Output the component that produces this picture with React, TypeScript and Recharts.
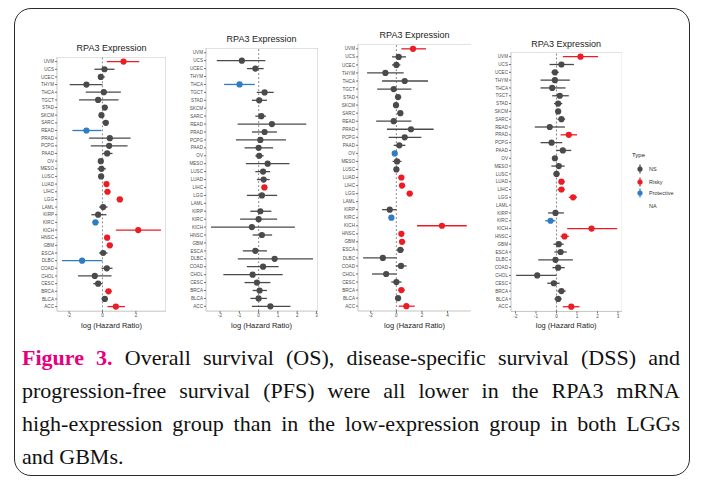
import React from 'react';
import { ScatterChart, Scatter, XAxis, YAxis, ErrorBar, ReferenceLine, ReferenceArea } from 'recharts';

const cancers = ['UVM','UCS','UCEC','THYM','THCA','TGCT','STAD','SKCM','SARC','READ','PRAD','PCPG','PAAD','OV','MESO','LUSC','LUAD','LIHC','LGG','LAML','KIRP','KIRC','KICH','HNSC','GBM','ESCA','DLBC','COAD','CHOL','CESC','BRCA','BLCA','ACC'];

// Panel 1
const p1HR = [1.26,0.12,-0.1,-0.96,0.08,-0.26,0.14,-0.06,0.2,-0.96,0.44,0.4,0.28,-0.1,-0.06,-0.08,0.24,0.3,1.04,0.04,-0.26,-0.42,2.14,0.28,0.44,0.04,-1.22,0.26,-0.46,-0.26,0.36,0.14,0.8];
const p1Lo = [0.26,-0.48,-0.26,-1.96,-1.0,-1.4,-0.01,-0.2,0.05,-1.8,-0.8,-0.7,0.0,-0.22,-0.3,-0.22,0.1,0.12,0.85,-0.2,-0.66,-0.6,0.8,0.1,0.25,-0.2,-2.42,-0.05,-1.46,-0.55,0.16,-0.05,0.3];
const p1Hi = [2.2,0.72,0.14,0.0,1.1,0.96,0.29,0.08,0.35,-0.06,1.68,1.5,0.6,0.02,0.2,0.06,0.38,0.48,1.22,0.3,0.24,-0.24,3.5,0.45,0.62,0.3,0.0,0.6,0.54,0.0,0.56,0.33,1.34];
const p1Type = ['R','N','N','N','N','N','N','N','N','P','N','N','N','N','N','N','R','R','R','N','N','P','R','R','R','N','P','N','N','N','R','N','R'];

// Panel 2
const p2HR = [null,-0.87,-0.17,null,-0.99,0.31,0.03,null,0.14,0.69,0.31,0.09,0.0,0.03,0.47,0.23,0.26,0.3,0.17,null,0.09,0.0,-0.35,0.17,null,-0.17,0.83,0.23,-0.31,-0.09,0.05,0.0,0.61];
const p2Lo = [null,-2.17,-0.6,null,-1.79,-0.1,-0.35,null,-0.17,-1.09,-0.35,-1.18,-0.73,-0.17,-0.66,-0.17,-0.09,0.15,-0.61,null,-0.43,-0.96,-2.47,-0.31,null,-0.82,-1.08,-0.61,-1.83,-0.73,-0.31,-0.43,-0.35];
const p2Hi = [null,0.35,0.26,null,-0.2,0.78,0.43,null,0.38,2.47,0.95,1.42,0.75,0.26,1.6,0.6,0.57,0.45,0.96,null,0.66,0.96,1.88,0.7,null,0.43,2.82,1.04,1.25,0.61,0.43,0.43,1.65];
const p2Type = ['X','N','N','X','P','N','N','X','N','N','N','N','N','N','N','N','N','R','N','X','N','N','N','N','X','N','N','N','N','N','N','N','N'];

// Panel 3
const p3HR = [1.3,0.18,0.0,-0.86,0.65,-0.21,0.13,-0.03,0.31,-0.21,1.14,0.65,0.23,-0.13,0.05,0.0,0.39,0.44,1.04,null,-0.52,-0.39,3.56,0.39,0.44,0.31,-1.06,0.36,-0.8,0.0,0.39,0.13,0.78];
const p3Lo = [0.39,-0.34,-0.34,-2.29,-1.12,-1.5,-0.12,-0.2,0.1,-1.58,-0.73,-0.6,-0.21,-0.22,-0.3,-0.2,0.15,0.2,0.8,null,-1.12,-0.6,1.61,0.2,0.2,0.05,-2.6,-0.05,-1.9,-0.4,0.15,-0.1,0.18];
const p3Hi = [2.31,0.75,0.31,0.57,2.47,1.17,0.38,0.14,0.5,1.17,2.91,1.95,0.7,-0.04,0.4,0.2,0.6,0.7,1.3,null,0.0,-0.2,5.5,0.6,0.7,0.6,0.0,0.8,0.0,0.4,0.65,0.35,1.43];
const p3Type = ['R','N','N','N','N','N','N','N','N','N','N','N','N','P','N','N','R','R','R','X','N','P','R','R','R','N','N','N','N','N','R','N','R'];

// Panel 4
const p4HR = [1.17,0.24,-0.08,-0.08,-0.21,0.16,0.08,0.08,0.24,-0.33,0.6,-0.24,0.31,-0.08,0.11,0.0,0.24,0.24,0.81,null,-0.05,-0.29,1.71,0.39,0.11,0.2,-0.05,0.08,-0.94,-0.13,0.24,0.08,0.72];
const p4Lo = [0.31,-0.34,-0.24,-0.78,-0.78,-0.21,-0.12,-0.04,0.05,-1.06,0.2,-0.78,0.0,-0.18,-0.25,-0.15,0.1,0.05,0.6,null,-0.41,-0.55,0.52,0.2,-0.15,-0.1,-0.89,-0.2,-1.97,-0.45,0.05,-0.1,0.31];
const p4Hi = [2.03,0.85,0.11,0.65,0.44,0.6,0.28,0.2,0.42,0.41,1.0,0.28,0.72,0.02,0.4,0.15,0.4,0.4,1.0,null,0.36,-0.05,2.96,0.6,0.35,0.5,0.8,0.4,0.0,0.15,0.45,0.25,1.12];
const p4Type = ['R','N','N','N','N','N','N','N','N','N','R','N','N','N','N','N','R','R','R','X','N','P','R','R','N','N','N','N','N','N','N','N','R'];

const p1Ticks = [-2, 0, 2];
const p2Ticks = [-2, -1, 0, 1, 2, 3];
const p3Ticks = [-2, 0, 2, 4];
const p4Ticks = [-2, -1, 0, 1, 2, 3];

const legendItems = ['NS', 'Risky', 'Protective', 'NA'];
const titleText = 'RPA3 Expression';
const xLabel = 'log (Hazard Ratio)';
const captionLines = [
  'Overall survival (OS), disease-specific survival (DSS) and',
  'progression-free survival (PFS) were all lower in the RPA3 mRNA',
  'high-expression group than in the low-expression group in both LGGs',
  'and GBMs.',
];

const COLORS: Record<string, string> = { N: '#4a4a4a', R: '#ec1c24', P: '#2f7cc2' };
const SANS = '"Liberation Sans", Arial, sans-serif';
const idx = cancers.map((_, i) => i);

function buildRows(hr: (number | null)[], lo: (number | null)[], hi: (number | null)[], type: string[], kind: string) {
  const out: any[] = [];
  cancers.forEach((c, i) => {
    const v = hr[i];
    if (v == null || type[i] !== kind) return;
    out.push({ name: c, y: i, x: v, err: [v - (lo[i] as number), (hi[i] as number) - v] });
  });
  return out;
}

type Geo = { x0: number; x1: number; y0: number; y1: number; ty: number; ly: number };

function Panel({ g, hr, lo, hi, type, domain, ticks }: { g: Geo; hr: any[]; lo: any[]; hi: any[]; type: string[]; domain: [number, number]; ticks: number[] }) {
  const yW = 40;
  const xH = 14;
  const w = g.x1 - g.x0 + yW;
  const h = g.y1 - g.y0 + xH;
  return (
    <>
      <div style={{ position: 'absolute', left: g.x0, width: g.x1 - g.x0, top: g.ty - 5, lineHeight: '10px', fontSize: 9, fontFamily: SANS, color: '#222', textAlign: 'center', whiteSpace: 'nowrap' }}>{titleText}</div>
      <div style={{ position: 'absolute', left: g.x0 - 20, width: g.x1 - g.x0 + 40, top: g.ly - 4.5, lineHeight: '9px', fontSize: 7.5, fontFamily: SANS, color: '#222', textAlign: 'center', whiteSpace: 'nowrap' }}>{xLabel}</div>
      <div style={{ position: 'absolute', left: g.x0 - yW, top: g.y0, width: w, height: h }}>
        <ScatterChart width={w} height={h} margin={{ top: 0, right: 0, bottom: 0, left: 0 }}>
          <XAxis type="number" dataKey="x" domain={domain} ticks={ticks} allowDataOverflow interval={0} axisLine={false} tickSize={2} tickMargin={1} height={xH}
            tick={{ fontSize: 4.6, fill: '#4d4d4d', fontFamily: SANS }} tickLine={{ stroke: '#4d4d4d', strokeWidth: 0.8 }} />
          <YAxis type="number" dataKey="y" domain={[-0.6, 32.6]} reversed ticks={idx} allowDataOverflow interval={0} axisLine={false} tickSize={2} tickMargin={1} width={yW}
            tickFormatter={(v: number) => cancers[v]} tick={{ fontSize: 4.6, fill: '#4d4d4d', fontFamily: SANS }} tickLine={{ stroke: '#4d4d4d', strokeWidth: 0.8 }} />
          <ReferenceArea x1={domain[0]} x2={domain[1]} y1={-0.6} y2={32.6} fill="none" fillOpacity={0} stroke="#c4c4c4" strokeWidth={1} ifOverflow="visible" />
          <ReferenceLine x={0} stroke="#8c8c8c" strokeWidth={1.1} strokeDasharray="1.8 2.2" />
          {['N', 'R', 'P'].map((k) => (
            <Scatter key={k} data={buildRows(hr, lo, hi, type, k)} isAnimationActive={false}
              shape={(p: any) => <circle cx={p.cx} cy={p.cy} r={3.1} fill={COLORS[k]} />}>
              <ErrorBar dataKey="err" direction="x" width={0} stroke={COLORS[k]} strokeWidth={1.3} />
            </Scatter>
          ))}
        </ScatterChart>
      </div>
    </>
  );
}

export default function App() {
  const legendY = [169.3, 181.7, 193.3, 205.7];
  return (
    <div style={{ position: 'absolute', left: 0, top: 0, width: 701, height: 483, background: '#fff', overflow: 'hidden' }}>
      <div style={{ position: 'absolute', left: 14, top: 7.5, width: 676, height: 468, border: '1.5px solid #2a2a2a', borderRadius: 17, boxSizing: 'border-box' }} />
      <Panel g={{ x0: 57, x1: 166, y0: 57.4, y1: 311.6, ty: 48, ly: 325.5 }} hr={p1HR} lo={p1Lo} hi={p1Hi} type={p1Type} domain={[-2.72, 3.8]} ticks={p1Ticks} />
      <Panel g={{ x0: 205.5, x1: 317.5, y0: 47.7, y1: 310.8, ty: 38.5, ly: 325.5 }} hr={p2HR} lo={p2Lo} hi={p2Hi} type={p2Type} domain={[-2.73, 3.08]} ticks={p2Ticks} />
      <Panel g={{ x0: 357.6, x1: 471.5, y0: 43.5, y1: 310.5, ty: 35, ly: 325 }} hr={p3HR} lo={p3Lo} hi={p3Hi} type={p3Type} domain={[-3.0, 5.9]} ticks={p3Ticks} />
      <Panel g={{ x0: 510.5, x1: 621.8, y0: 52, y1: 311.4, ty: 43.5, ly: 325 }} hr={p4HR} lo={p4Lo} hi={p4Hi} type={p4Type} domain={[-2.22, 3.21]} ticks={p4Ticks} />
      {/* legend */}
      <div style={{ position: 'absolute', left: 632, top: 151, fontSize: 6, lineHeight: '8px', fontFamily: SANS, color: '#222' }}>Type</div>
      {legendItems.map((t, i) => (
        <div key={t} style={{ position: 'absolute', left: 635, top: legendY[i] - 5, height: 10, width: 60 }}>
          {i < 3 && (
            <svg width={10} height={10} style={{ position: 'absolute', left: 0, top: 0 }}>
              <line x1={5} y1={0.5} x2={5} y2={9.5} stroke={COLORS[['N', 'R', 'P'][i]]} strokeWidth={1.2} />
              <circle cx={5} cy={5} r={2.6} fill={COLORS[['N', 'R', 'P'][i]]} />
            </svg>
          )}
          <div style={{ position: 'absolute', left: 14, top: 1, fontSize: 5.5, lineHeight: '8px', fontFamily: SANS, color: '#333', whiteSpace: 'nowrap' }}>{t}</div>
        </div>
      ))}
      {/* caption */}
      <div style={{ position: 'absolute', left: 22, top: 341, width: 658, fontFamily: '"Liberation Serif", "Times New Roman", serif', fontSize: 22, lineHeight: '33px', color: '#111' }}>
        {captionLines.map((l, i) => (
          <div key={i} style={{ textAlign: i < 3 ? 'justify' : 'left', textAlignLast: i < 3 ? 'justify' : 'left', whiteSpace: 'nowrap' } as any}>
            {i === 0 && <span style={{ color: '#e5007e', fontWeight: 'bold' }}>Figure 3. </span>}
            {l}
          </div>
        ))}
      </div>
    </div>
  );
}
